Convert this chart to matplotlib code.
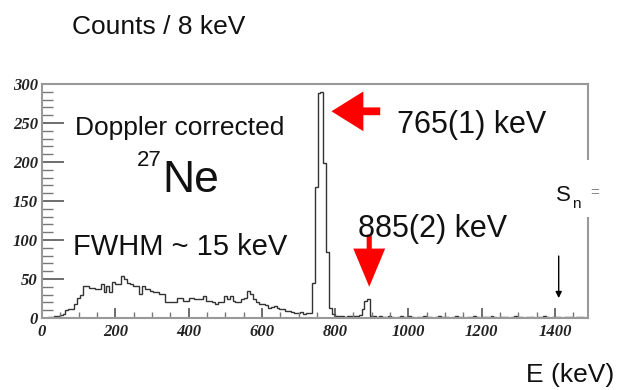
import numpy as np
import matplotlib
matplotlib.use("Agg")
import matplotlib.pyplot as plt
from matplotlib.patches import FancyArrow, Rectangle
from matplotlib.ticker import MultipleLocator

W, H, DPI = 620, 390, 100

# 27Ne Doppler corrected gamma spectrum, 8 keV bins starting at 0 keV
bin_width = 8
counts = [
    0, 0, 1, 1, 2, 2, 4, 5, 10, 11, 12, 18, 26, 30, 41, 41,          # 0-120
    39, 39, 37, 37, 43, 33, 41, 33, 46, 43, 43, 54, 50, 45, 43, 41,   # 128-248
    41, 31, 41, 37, 37, 35, 33, 33, 31, 31, 20, 20, 20, 20, 26, 26,   # 256-376
    22, 22, 26, 26, 24, 24, 24, 28, 22, 22, 20, 18, 20, 21, 28, 24,   # 384-504
    28, 22, 20, 20, 24, 26, 35, 31, 24, 20, 18, 18, 17, 13, 14, 15,   # 512-632
    13, 11, 11, 9, 9, 8, 7, 6, 8, 5, 7, 7, 45, 168, 288, 290,         # 640-760
    199, 84, 13, 5, 3, 2, 2, 1, 2, 2, 2, 3, 4, 11, 22, 24,            # 768-888
    3, 2, 1, 2, 1, 1, 2, 1, 0, 1, 2, 1, 1, 2, 1, 0,                   # 896-1016
    1, 1, 2, 1, 1, 0, 1, 2, 1, 1, 1, 0, 1, 2, 1, 1,                   # 1024-1144
    0, 1, 1, 2, 1, 0, 1, 1, 1, 2, 1, 0, 1, 1, 1, 0,                   # 1152-1272
    1, 2, 1, 1, 0, 1, 1, 1, 0, 1, 1, 2, 1, 0, 1, 1,                   # 1280-1400
    1, 0, 1, 1, 1, 0, 1, 1, 1, 0, 1,                                  # 1408-1488
]
edges = np.arange(len(counts) + 1) * bin_width

x_ticks = [0, 200, 400, 600, 800, 1000, 1200, 1400]
y_ticks = [0, 50, 100, 150, 200, 250, 300]

main_peak = 765     # keV
second_peak = 885   # keV
sn_energy = 1410    # keV, neutron separation energy marker

fig = plt.figure(figsize=(W / DPI, H / DPI), dpi=DPI, facecolor="white")
ax = fig.add_axes([42 / W, 1 - 318 / H, (588 - 42) / W, (318 - 84) / H])

ax.stairs(counts, edges, color="#333333", lw=1.0)

ax.set_xlim(0, 1490)
ax.set_ylim(0, 300)
ax.set_xticks(x_ticks)
ax.set_yticks(y_ticks)
ax.xaxis.set_minor_locator(MultipleLocator(50))
ax.yaxis.set_minor_locator(MultipleLocator(10))
ax.tick_params(which="major", direction="in", color="#555555", length=0)
ax.tick_params(axis="y", which="major", length=16, width=1.2)
ax.tick_params(axis="y", which="minor", direction="in", length=8, width=1.0, color="#777777")
ax.tick_params(axis="x", which="major", length=7, width=1.2)
ax.tick_params(axis="x", which="minor", direction="in", length=4, width=1.0, color="#777777")
ax.tick_params(axis="x", pad=4)
ax.tick_params(axis="y", pad=3)
for lab in ax.get_xticklabels() + ax.get_yticklabels():
    lab.set_fontfamily("Liberation Serif")
    lab.set_fontstyle("italic")
    lab.set_fontweight("bold")
    lab.set_fontsize(12)
    lab.set_color("#222222")
for sp in ax.spines.values():
    sp.set_color("#999999")
    sp.set_linewidth(1.5)

# red arrows pointing at the two lines
ax.add_patch(FancyArrow(923, 265, -133, 0, width=10, head_width=51, head_length=87,
                        length_includes_head=True, color="red", lw=0))
ax.add_patch(FancyArrow(second_peak + 8, 107, 0, -67, width=14, head_width=87,
                        head_length=49, length_includes_head=True, color="red", lw=0))
ax.annotate("", xy=(sn_energy, 22), xytext=(sn_energy, 83),
            arrowprops=dict(arrowstyle="-|>", color="black", lw=1, mutation_scale=9))


def ftext(px, py, s, size, **kw):
    kw.setdefault("family", "Liberation Sans")
    kw.setdefault("color", "#111111")
    return fig.text(px / W, 1 - py / H, s, fontsize=size, va="baseline", **kw)


ftext(72, 34, "Counts / 8 keV", 19)
ftext(614, 382, "E (keV)", 19, ha="right")
ftext(75, 135, "Doppler corrected", 19)
ftext(137, 166, "27", 16)
ftext(162, 192, "Ne", 32)
ftext(73, 255, "FWHM ~ 15 keV", 21)
ftext(397, 133, f"{main_peak}(1) keV", 22)
ftext(358, 237, f"{second_peak}(2) keV", 22)
ftext(556, 201, "S", 16)
ftext(572, 208, "n", 11)

# white box hiding the rest of the Sn label
fig.patches.append(Rectangle((586 / W, 1 - 217 / H), 30 / W, 57 / H,
                             transform=fig.transFigure, facecolor="white",
                             edgecolor="none", zorder=5))
ftext(590, 197, "=", 11, color="#888888", zorder=6)

fig.savefig("out.png", dpi=DPI, facecolor="white")
